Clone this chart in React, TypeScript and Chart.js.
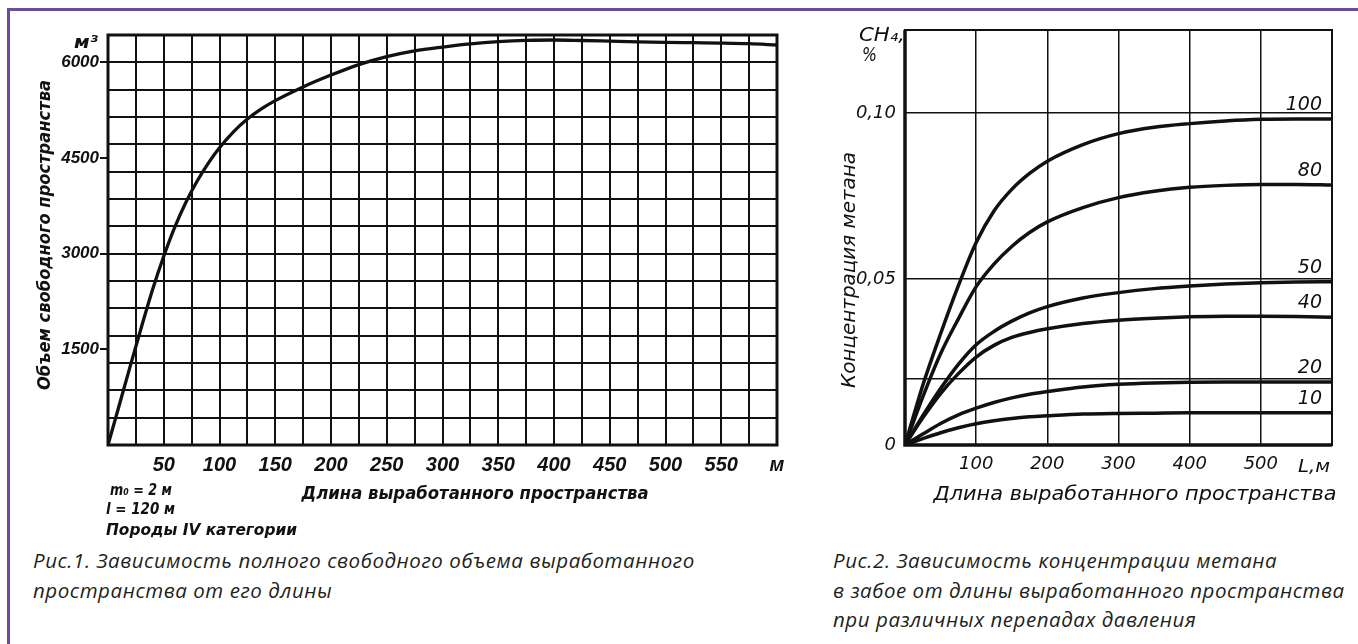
import React, { useEffect, useRef } from 'react';
import { Chart, registerables } from 'chart.js';

Chart.register(...registerables);

// ---------- Figure 1: free volume vs. length of worked-out space ----------
const fig1Length = [0, 10, 20, 30, 40, 50, 60, 70, 80, 90, 100, 112.5, 125, 137.5, 150, 175, 200, 225, 250, 275, 300, 325, 350, 375, 400, 425, 450, 475, 500, 525, 550, 575, 600];
const fig1Volume = [0, 620, 1240, 1850, 2440, 2960, 3420, 3810, 4140, 4420, 4660, 4910, 5110, 5270, 5400, 5615, 5800, 5965, 6090, 6180, 6240, 6290, 6325, 6345, 6350, 6342, 6332, 6322, 6314, 6308, 6302, 6292, 6272];

const fig1XTickValues = [50, 100, 150, 200, 250, 300, 350, 400, 450, 500, 550, 600];
const fig1XTickLabels = ['50', '100', '150', '200', '250', '300', '350', '400', '450', '500', '550', 'м'];
const fig1YTickValues = [1500, 3000, 4500, 6000];
const fig1YTickLabels = ['1500', '3000', '4500', '6000'];
const fig1XGridStep = 25;
const fig1XMax = 600;
const fig1YGridStep = 3000 / 7;
const fig1YGridCount = 15;
const fig1YMax = fig1YGridStep * fig1YGridCount;

const fig1YTitle = 'Объем свободного пространства';
const fig1XTitle = 'Длина выработанного пространства';
const fig1YUnit = 'м³';
const fig1Notes = ['m₀ = 2 м', 'l = 120 м', 'Породы IV категории'];
const fig1Caption = ['Рис.1. Зависимость полного свободного объема выработанного', 'пространства от его длины'];

// ---------- Figure 2: methane concentration vs. length ----------
const fig2Length = [0, 25, 50, 75, 100, 125, 150, 175, 200, 250, 300, 350, 400, 450, 500, 550, 600];
const fig2Drop100 = [0, 0.018, 0.0335, 0.048, 0.061, 0.0705, 0.077, 0.0818, 0.0855, 0.0905, 0.0938, 0.0957, 0.0968, 0.0976, 0.0981, 0.0982, 0.0982];
const fig2Drop80 = [0, 0.0145, 0.0275, 0.038, 0.0477, 0.0545, 0.0598, 0.064, 0.0672, 0.0715, 0.0745, 0.0764, 0.0776, 0.0782, 0.0785, 0.0785, 0.0783];
const fig2Drop50 = [0, 0.0088, 0.017, 0.0243, 0.0302, 0.0342, 0.0373, 0.0398, 0.0417, 0.0443, 0.0459, 0.0471, 0.0479, 0.0485, 0.0489, 0.0491, 0.0492];
const fig2Drop40 = [0, 0.0082, 0.0155, 0.0215, 0.0265, 0.03, 0.0324, 0.0339, 0.035, 0.0366, 0.0376, 0.0382, 0.0386, 0.0388, 0.0388, 0.0387, 0.0385];
const fig2Drop20 = [0, 0.0033, 0.0065, 0.0091, 0.0111, 0.0128, 0.0142, 0.0153, 0.0161, 0.0175, 0.0183, 0.0187, 0.0189, 0.019, 0.019, 0.019, 0.019];
const fig2Drop10 = [0, 0.0019, 0.0037, 0.0052, 0.0064, 0.0073, 0.008, 0.0085, 0.0088, 0.0093, 0.0095, 0.0096, 0.0097, 0.0097, 0.0097, 0.0097, 0.0097];
const fig2SeriesLabels = ['100', '80', '50', '40', '20', '10'];

const fig2XTickValues = [0, 100, 200, 300, 400, 500, 600];
const fig2XTickLabels = ['', '100', '200', '300', '400', '500', ''];
const fig2XUnit = 'L,м';
const fig2YTickValues = [0, 0.02, 0.05, 0.1, 0.125];
const fig2YTickLabels = ['0', '', '0,05', '0,10', ''];
const fig2YMax = 0.125;
const fig2YUnit = ['CH₄,', '%'];
const fig2YTitle = 'Концентрация метана';
const fig2XTitle = 'Длина выработанного пространства';
const fig2Caption = ['Рис.2. Зависимость концентрации метана', 'в забое от длины выработанного пространства', 'при различных перепадах давления'];

const INK = '#111111';
const CAPTION_INK = '#231f20';
const FRAME = '#6a4c9c';
const SCAN_BOLD = 'italic bold 17px "DejaVu Sans", sans-serif';
const SCAN_REG = 'italic 20px "DejaVu Sans", sans-serif';

type Align = 'left' | 'center' | 'right';

function drawText(
  ctx: CanvasRenderingContext2D,
  text: string,
  x: number,
  y: number,
  font: string,
  width: number,
  align: Align,
  rotate = 0,
  baseline: CanvasTextBaseline = 'alphabetic'
) {
  ctx.save();
  ctx.font = font;
  ctx.fillStyle = INK;
  ctx.textBaseline = baseline;
  ctx.textAlign = align;
  const w = ctx.measureText(text).width;
  const sx = width > 0 && w > 0 ? width / w : 1;
  ctx.translate(x, y);
  if (rotate) ctx.rotate(rotate);
  ctx.scale(sx, 1);
  ctx.fillText(text, 0, 0);
  ctx.restore();
}

function lookup(values: number[], labels: string[], v: number): string {
  const i = values.findIndex((t) => Math.abs(t - v) < 1e-9);
  return i >= 0 ? labels[i] : '';
}

const fig1Decor = {
  id: 'fig1Decor',
  afterDraw(chart: any) {
    const { ctx, chartArea: a } = chart;
    ctx.save();
    ctx.strokeStyle = INK;
    ctx.lineWidth = 3;
    ctx.strokeRect(a.left, a.top, a.right - a.left, a.bottom - a.top);
    ctx.restore();
    const cy = (a.top + a.bottom) / 2;
    drawText(ctx, fig1YTitle, 45, cy - 5, 'italic bold 18px "DejaVu Sans", sans-serif', 310, 'center', -Math.PI / 2, 'middle');
    drawText(ctx, fig1YUnit, a.left - 10, a.top + 13, SCAN_BOLD, 24, 'right');
    drawText(ctx, fig1XTitle, 475, 499, 'italic bold 18px "DejaVu Sans", sans-serif', 347, 'center');
    const noteFont = 'italic bold 15px "DejaVu Sans", sans-serif';
    drawText(ctx, fig1Notes[0], 110, 495, noteFont, 62, 'left');
    drawText(ctx, fig1Notes[1], 106, 514, noteFont, 69, 'left');
    drawText(ctx, fig1Notes[2], 106, 535, noteFont, 191, 'left');
  },
};

const fig2Decor = {
  id: 'fig2Decor',
  afterDraw(chart: any) {
    const { ctx, chartArea: a } = chart;
    ctx.save();
    ctx.strokeStyle = INK;
    ctx.lineWidth = 2;
    ctx.strokeRect(a.left, a.top, a.right - a.left, a.bottom - a.top);
    ctx.lineWidth = 3.5;
    ctx.beginPath();
    ctx.moveTo(a.left, a.top);
    ctx.lineTo(a.left, a.bottom);
    ctx.lineTo(a.right, a.bottom);
    ctx.stroke();
    ctx.restore();
    drawText(ctx, fig2YUnit[0], a.left - 46, a.top + 11, SCAN_REG, 46, 'left');
    drawText(ctx, fig2YUnit[1], a.left - 43, a.top + 31, SCAN_REG, 15, 'left');
    drawText(ctx, fig2YTitle, 50, 270, SCAN_REG, 236, 'center', -Math.PI / 2, 'middle');
    drawText(ctx, fig2XTitle, 335, 500, SCAN_REG, 403, 'center');
    drawText(ctx, fig2XUnit, a.right - 2, 472, 'italic 18px "DejaVu Sans", sans-serif', 32, 'right');
    chart.data.datasets.forEach((ds: any, i: number) => {
      const meta = chart.getDatasetMeta(i);
      const last = meta.data[meta.data.length - 1];
      drawText(ctx, ds.label, a.right - 10, last.y - 9, 'italic 19px "DejaVu Sans", sans-serif', 0, 'right');
    });
  },
};

function Figure1() {
  const ref = useRef<HTMLCanvasElement | null>(null);
  useEffect(() => {
    if (!ref.current) return;
    const xGrid: number[] = [];
    for (let v = 0; v <= fig1XMax; v += fig1XGridStep) xGrid.push(v);
    const yGrid: number[] = [];
    for (let i = 0; i <= fig1YGridCount; i++) yGrid.push(i * fig1YGridStep);
    const chart = new Chart(ref.current, {
      type: 'line',
      data: {
        datasets: [
          {
            data: fig1Length.map((x, i) => ({ x, y: fig1Volume[i] })),
            borderColor: INK,
            borderWidth: 3.3,
            pointRadius: 0,
            cubicInterpolationMode: 'monotone',
            yAxisID: 'y',
          },
        ],
      },
      options: {
        responsive: false,
        animation: false,
        layout: { padding: { top: 35, right: 23, left: 0, bottom: 0 } },
        plugins: { legend: { display: false }, tooltip: { enabled: false } },
        scales: {
          x: {
            type: 'linear',
            min: 0,
            max: fig1XMax,
            afterBuildTicks: (s: any) => {
              s.ticks = xGrid.map((value) => ({ value }));
            },
            afterFit: (s: any) => {
              s.height = 100;
            },
            grid: { color: INK, lineWidth: 2, drawTicks: false },
            border: { display: false },
            ticks: {
              autoSkip: false,
              maxRotation: 0,
              padding: 8,
              color: INK,
              font: { family: '"Liberation Sans Narrow", "Liberation Sans", sans-serif', size: 20, style: 'italic', weight: 'bold' },
              callback: (v: any) => lookup(fig1XTickValues, fig1XTickLabels, Number(v)),
            },
          },
          y: {
            type: 'linear',
            position: 'left',
            min: 0,
            max: fig1YMax,
            afterBuildTicks: (s: any) => {
              s.ticks = fig1YTickValues.map((value) => ({ value }));
            },
            afterFit: (s: any) => {
              s.width = 108;
            },
            grid: { drawOnChartArea: false, drawTicks: true, tickLength: 8, color: INK, lineWidth: 2 },
            border: { display: false },
            ticks: {
              padding: 1,
              color: INK,
              font: { family: '"Liberation Sans", sans-serif', size: 17, style: 'italic', weight: 'bold' },
              callback: (v: any) => lookup(fig1YTickValues, fig1YTickLabels, Number(v)),
            },
          },
          yg: {
            type: 'linear',
            position: 'left',
            min: 0,
            max: fig1YMax,
            afterBuildTicks: (s: any) => {
              s.ticks = yGrid.map((value) => ({ value }));
            },
            afterFit: (s: any) => {
              s.width = 0;
            },
            grid: { color: INK, lineWidth: 2, drawTicks: false },
            border: { display: false },
            ticks: { display: false },
          },
        },
      } as any,
      plugins: [fig1Decor],
    });
    return () => chart.destroy();
  }, []);
  return <canvas ref={ref} width={800} height={545} style={{ position: 'absolute', left: 0, top: 0 }} />;
}

function Figure2() {
  const ref = useRef<HTMLCanvasElement | null>(null);
  useEffect(() => {
    if (!ref.current) return;
    const series = [fig2Drop100, fig2Drop80, fig2Drop50, fig2Drop40, fig2Drop20, fig2Drop10];
    const chart = new Chart(ref.current, {
      type: 'line',
      data: {
        datasets: series.map((vals, k) => ({
          label: fig2SeriesLabels[k],
          data: fig2Length.map((x, i) => ({ x, y: vals[i] })),
          borderColor: INK,
          borderWidth: 3.5,
          pointRadius: 0,
          cubicInterpolationMode: 'monotone',
        })),
      },
      options: {
        responsive: false,
        animation: false,
        layout: { padding: { top: 30, right: 26, left: 0, bottom: 0 } },
        plugins: { legend: { display: false }, tooltip: { enabled: false } },
        scales: {
          x: {
            type: 'linear',
            min: 0,
            max: 600,
            afterBuildTicks: (s: any) => {
              s.ticks = fig2XTickValues.map((value) => ({ value }));
            },
            afterFit: (s: any) => {
              s.height = 75;
            },
            grid: { color: INK, lineWidth: 1.5, drawTicks: false },
            border: { display: false },
            ticks: {
              autoSkip: false,
              maxRotation: 0,
              padding: 9,
              color: INK,
              font: { family: '"DejaVu Sans", sans-serif', size: 18, style: 'italic' },
              callback: (v: any) => lookup(fig2XTickValues, fig2XTickLabels, Number(v)),
            },
          },
          y: {
            type: 'linear',
            min: 0,
            max: fig2YMax,
            afterBuildTicks: (s: any) => {
              s.ticks = fig2YTickValues.map((value) => ({ value }));
            },
            afterFit: (s: any) => {
              s.width = 105;
            },
            grid: { color: INK, lineWidth: 1.5, drawTicks: false },
            border: { display: false },
            ticks: {
              padding: 9,
              color: INK,
              font: { family: '"DejaVu Sans", sans-serif', size: 18, style: 'italic' },
              callback: (v: any) => lookup(fig2YTickValues, fig2YTickLabels, Number(v)),
            },
          },
        },
      } as any,
      plugins: [fig2Decor],
    });
    return () => chart.destroy();
  }, []);
  return <canvas ref={ref} width={558} height={520} style={{ position: 'absolute', left: 800, top: 0 }} />;
}

const captionStyle: React.CSSProperties = {
  position: 'absolute',
  fontFamily: '"Open Sans", sans-serif',
  fontStyle: 'italic',
  fontSize: 20.5,
  letterSpacing: '0.55px',
  lineHeight: '29.5px',
  color: CAPTION_INK,
  whiteSpace: 'nowrap',
};

export default function App() {
  return (
    <div style={{ position: 'absolute', left: 0, top: 0, width: 1358, height: 644, overflow: 'hidden', background: '#fff' }}>
      <Figure1 />
      <Figure2 />
      <div style={{ ...captionStyle, left: 33, top: 546 }}>
        {fig1Caption.map((l) => (
          <div key={l}>{l}</div>
        ))}
      </div>
      <div style={{ ...captionStyle, left: 833, top: 546 }}>
        {fig2Caption.map((l) => (
          <div key={l}>{l}</div>
        ))}
      </div>
      <div
        style={{
          position: 'absolute',
          left: 7,
          top: 8,
          width: 1400,
          height: 700,
          borderTop: `3px solid ${FRAME}`,
          borderLeft: `3px solid ${FRAME}`,
          pointerEvents: 'none',
        }}
      />
    </div>
  );
}
